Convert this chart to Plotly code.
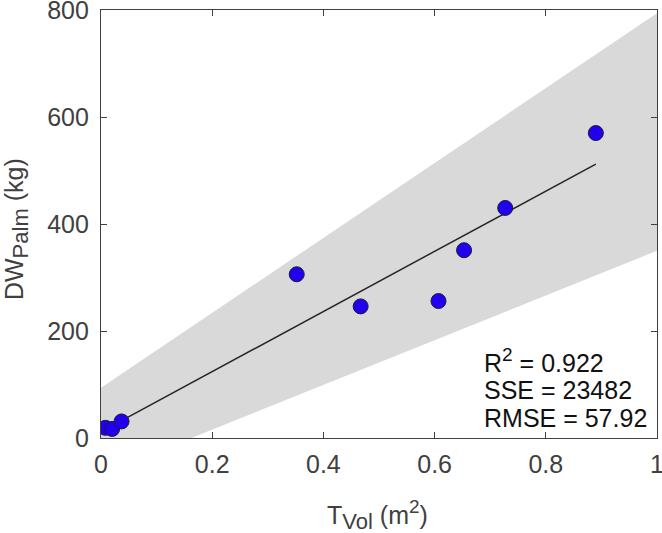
import plotly.graph_objects as go

# Data
t_vol = [0.008, 0.020, 0.037, 0.352, 0.467, 0.607, 0.653, 0.727, 0.890]
dw_palm = [19, 17, 31, 306, 246, 256, 351, 430, 570]

fit_x = [0.008, 0.890]
fit_y = [16, 512]

band_x = [0.0, 1.0]
band_upper = [94, 794]
band_lower = [-68, 350]

x_ticks = [0, 0.2, 0.4, 0.6, 0.8, 1]
x_ticklabels = ["0", "0.2", "0.4", "0.6", "0.8", "1"]
y_ticks = [0, 200, 400, 600, 800]
y_ticklabels = ["0", "200", "400", "600", "800"]

SUP = "<sup><span style='font-size:19px'>2</span></sup>"
stats_lines = ["R" + SUP + " = 0.922", "SSE = 23482", "RMSE = 57.92"]
stats_y = [145, 89, 37]

x_title = "T<sub><span style='font-size:22px'>Vol</span></sub> (m" + SUP + ")"
y_title = "DW<sub><span style='font-size:22px'>Palm</span></sub> (kg)"

FONT = "Arial, 'Liberation Sans', Helvetica, sans-serif"
AXC = "#404040"
FS = 25

fig = go.Figure()

# prediction band
fig.add_trace(go.Scatter(
    x=band_x + band_x[::-1],
    y=band_upper + band_lower[::-1],
    fill="toself", fillcolor="#d9d9d9",
    line=dict(width=0), mode="lines", hoverinfo="skip", showlegend=False,
))

# fit line
fig.add_trace(go.Scatter(
    x=fit_x, y=fit_y, mode="lines",
    line=dict(color="#262626", width=1.5), showlegend=False,
))

# data points
fig.add_trace(go.Scatter(
    x=t_vol, y=dw_palm, mode="markers",
    marker=dict(size=15, color="#2200ee", line=dict(color="#1a1a3a", width=1)),
    showlegend=False,
))

for txt, yv in zip(stats_lines, stats_y):
    fig.add_annotation(
        x=0.686, y=yv, xref="x", yref="y", text=txt, showarrow=False,
        xanchor="left", yanchor="middle",
        font=dict(family=FONT, size=FS, color="#111111"),
    )

# axis titles
fig.add_annotation(
    x=0.498, y=-0.181, xref="paper", yref="paper", text=x_title,
    showarrow=False, xanchor="center", yanchor="middle",
    font=dict(family=FONT, size=FS, color=AXC),
)
fig.add_annotation(
    x=-0.153, y=0.488, xref="paper", yref="paper", text=y_title,
    showarrow=False, xanchor="center", yanchor="middle", textangle=-90,
    font=dict(family=FONT, size=FS, color=AXC),
)

axis_common = dict(
    showline=True, linecolor=AXC, linewidth=1.2, mirror="allticks",
    ticks="inside", ticklen=6, tickcolor=AXC, tickwidth=1.2,
    showgrid=False, zeroline=False, automargin=False,
    ticklabeloverflow="allow",
    tickfont=dict(family=FONT, size=FS, color=AXC),
)

fig.update_layout(
    width=662, height=533,
    margin=dict(l=101, r=5, t=10, b=95, autoexpand=False),
    paper_bgcolor="white", plot_bgcolor="white",
    xaxis=dict(range=[0, 1], tickvals=x_ticks, ticktext=x_ticklabels,
               ticklabelstandoff=4, **axis_common),
    yaxis=dict(range=[0, 800], tickvals=y_ticks, ticktext=y_ticklabels,
               ticklabelstandoff=6, **axis_common),
)

fig.write_html(
    "out.html",
    config={"displayModeBar": False},
    post_script="document.body.style.margin='0px';document.body.style.padding='0px';",
)
